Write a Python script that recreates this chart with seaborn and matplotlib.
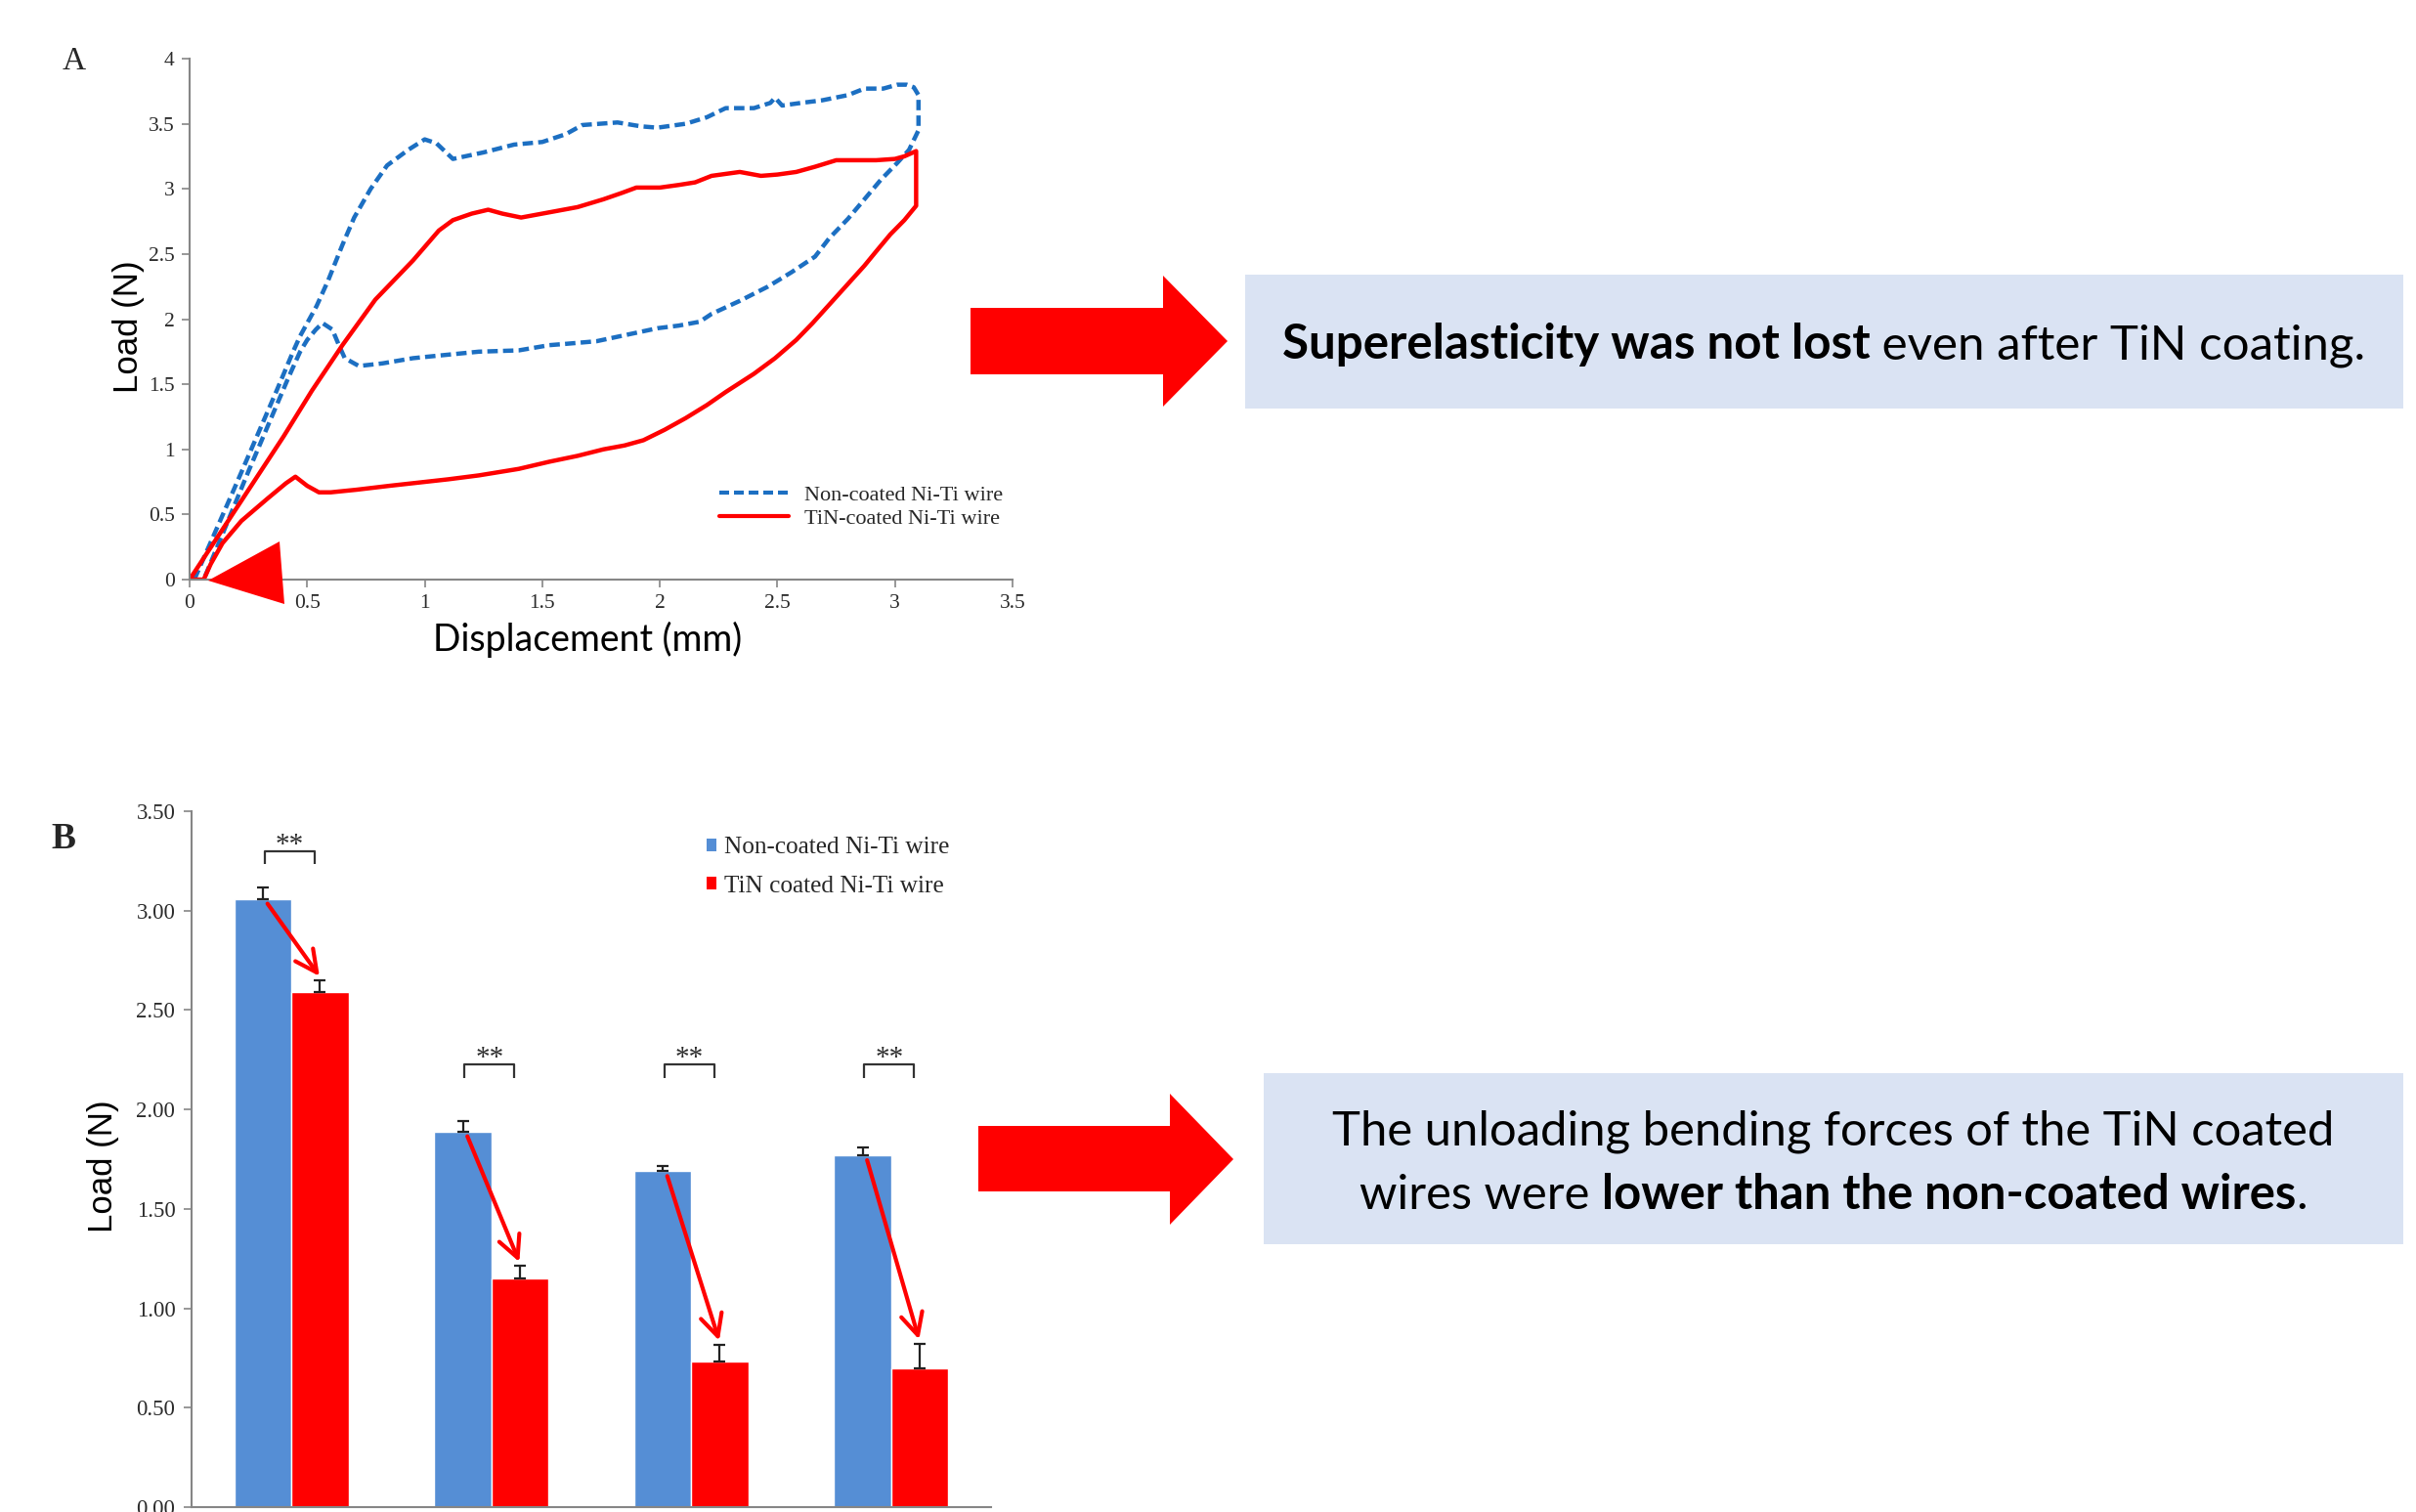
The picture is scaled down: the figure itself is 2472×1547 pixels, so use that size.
import numpy as np
import pandas as pd
import matplotlib
matplotlib.use("Agg")
import matplotlib.pyplot as plt
import seaborn as sns
from matplotlib.patches import Polygon, Rectangle, Patch
from matplotlib.lines import Line2D
from matplotlib.ticker import FormatStrFormatter, FuncFormatter

# ---------------- data ----------------
# Panel A: load-displacement loops (mm, N)
nc_load_x = [0.02, 0.20, 0.37, 0.44, 0.47, 0.54, 0.59, 0.65, 0.70, 0.77, 0.84, 0.93, 1.00,
             1.05, 1.12, 1.25, 1.38, 1.50, 1.60, 1.67, 1.82, 1.92, 1.99, 2.11, 2.20, 2.28,
             2.40, 2.47, 2.49, 2.52, 2.60, 2.69, 2.80, 2.87, 2.95, 3.01, 3.05, 3.08, 3.10]
nc_load_y = [0.00, 0.74, 1.45, 1.75, 1.87, 2.10, 2.30, 2.57, 2.78, 3.00, 3.18, 3.30, 3.38,
             3.35, 3.23, 3.28, 3.34, 3.36, 3.42, 3.49, 3.51, 3.48, 3.47, 3.50, 3.55, 3.62,
             3.62, 3.66, 3.70, 3.64, 3.66, 3.68, 3.72, 3.77, 3.77, 3.80, 3.80, 3.78, 3.72]
nc_unload_x = [3.10, 3.06, 3.01, 2.94, 2.87, 2.80, 2.72, 2.66, 2.56, 2.46, 2.34, 2.22, 2.17,
               2.08, 1.99, 1.86, 1.73, 1.60, 1.53, 1.40, 1.23, 1.06, 0.95, 0.82, 0.72, 0.66,
               0.635, 0.607, 0.565, 0.537, 0.50, 0.47, 0.42, 0.25, 0.06]
nc_unload_y = [3.45, 3.30, 3.20, 3.07, 2.92, 2.77, 2.62, 2.48, 2.36, 2.25, 2.14, 2.04, 1.98,
               1.95, 1.93, 1.88, 1.83, 1.81, 1.80, 1.76, 1.75, 1.72, 1.70, 1.66, 1.64, 1.70,
               1.80, 1.92, 1.97, 1.92, 1.84, 1.75, 1.55, 0.83, 0.00]

tin_load_x = [0.00, 0.20, 0.40, 0.52, 0.65, 0.79, 0.87, 0.95, 1.06, 1.12, 1.20, 1.27, 1.33,
              1.41, 1.53, 1.65, 1.76, 1.84, 1.90, 2.00, 2.08, 2.15, 2.22, 2.34, 2.43, 2.50,
              2.58, 2.66, 2.75, 2.85, 2.92, 3.00, 3.04, 3.09]
tin_load_y = [0.00, 0.55, 1.10, 1.45, 1.80, 2.15, 2.30, 2.45, 2.68, 2.76, 2.81, 2.84, 2.81,
              2.78, 2.82, 2.86, 2.92, 2.97, 3.01, 3.01, 3.03, 3.05, 3.10, 3.13, 3.10, 3.11,
              3.13, 3.17, 3.22, 3.22, 3.22, 3.23, 3.25, 3.29]
tin_unload_x = [3.09, 3.04, 2.98, 2.92, 2.87, 2.80, 2.72, 2.65, 2.58, 2.49, 2.40, 2.28, 2.20,
                2.11, 2.02, 1.93, 1.85, 1.76, 1.65, 1.53, 1.40, 1.23, 1.10, 1.00, 0.85, 0.71,
                0.60, 0.55, 0.50, 0.45, 0.41, 0.33, 0.22, 0.14, 0.09, 0.06, 0.00]
tin_unload_y = [2.87, 2.76, 2.65, 2.52, 2.41, 2.27, 2.11, 1.97, 1.84, 1.70, 1.58, 1.44, 1.34,
                1.24, 1.15, 1.07, 1.03, 1.00, 0.95, 0.905, 0.85, 0.80, 0.77, 0.75, 0.72, 0.69,
                0.67, 0.67, 0.72, 0.79, 0.74, 0.62, 0.45, 0.28, 0.12, 0.00, 0.00]

wire_labels_a = ["Non-coated Ni-Ti wire", "TiN-coated Ni-Ti wire"]

# Panel B: unloading bending force (N), mean and upper error
groups = [0, 1, 2, 3]
noncoated_load = [3.06, 1.89, 1.69, 1.77]
noncoated_err = [0.055, 0.05, 0.026, 0.039]
tin_load = [2.59, 1.15, 0.73, 0.70]
tin_err = [0.06, 0.063, 0.087, 0.123]
bracket_top = [3.30, 2.225, 2.225, 2.225]
sig_marks = ["**", "**", "**", "**"]
wire_labels_b = ["Non-coated Ni-Ti wire", "TiN coated Ni-Ti wire"]

y_ticks_a = [0, 0.5, 1, 1.5, 2, 2.5, 3, 3.5, 4]
x_ticks_a = [0, 0.5, 1, 1.5, 2, 2.5, 3, 3.5]
y_ticks_b = [0.0, 0.5, 1.0, 1.5, 2.0, 2.5, 3.0, 3.5]

callout_1 = [("Superelasticity was not lost", "bold"), (" even after TiN coating.", "normal")]
callout_2a = [("The unloading bending forces of the TiN coated", "normal")]
callout_2b = [("wires were ", "normal"), ("lower than the non-coated wires", "bold"), (".", "normal")]

# ---------------- style ----------------
BLUE_LINE = "#1C6FC2"
RED = "#FF0000"
BLUE_BAR = "#558ED5"
BOX = "#DAE3F3"
SPINE = "#868686"
TXT = "#2B2B2B"
SERIF = ["Liberation Serif", "DejaVu Serif"]
SANS = ["Liberation Sans", "DejaVu Sans"]
CALLOUT = ["Lato", "DejaVu Sans"]

W, H, DPI = 2472, 1547, 100
sns.set_theme(style="white")
plt.rcParams["font.family"] = SERIF

fig = plt.figure(figsize=(W / DPI, H / DPI), dpi=DPI)
fig.patch.set_facecolor("white")


def fx(px):
    return px / W


def fy(py):
    return 1 - py / H


# ---------------- panel A ----------------
axA = fig.add_axes([fx(194), fy(593), (1036 - 194) / W, (593 - 60) / H])
curve_df = pd.concat([
    pd.DataFrame({"x": nc_load_x + nc_unload_x, "y": nc_load_y + nc_unload_y,
                  "wire": wire_labels_a[0]}),
    pd.DataFrame({"x": tin_load_x + tin_unload_x, "y": tin_load_y + tin_unload_y,
                  "wire": wire_labels_a[1]}),
], ignore_index=True)
sns.lineplot(data=curve_df, x="x", y="y", hue="wire", style="wire",
             palette={wire_labels_a[0]: BLUE_LINE, wire_labels_a[1]: RED},
             dashes={wire_labels_a[0]: (2.4, 1.2), wire_labels_a[1]: ""},
             sort=False, estimator=None, lw=3.2, legend=False, ax=axA)

axA.set_xlim(0, 3.5)
axA.set_ylim(0, 4)
axA.set_xticks(x_ticks_a)
axA.set_yticks(y_ticks_a)
axA.xaxis.set_major_formatter(FuncFormatter(lambda v, p: f"{v:g}"))
axA.yaxis.set_major_formatter(FuncFormatter(lambda v, p: f"{v:g}"))
for s in ["top", "right"]:
    axA.spines[s].set_visible(False)
for s in ["left", "bottom"]:
    axA.spines[s].set_color(SPINE)
    axA.spines[s].set_linewidth(1.5)
axA.tick_params(direction="out", length=6, width=1.2, color=SPINE, labelsize=15.5,
                labelcolor=TXT, pad=5, left=True, bottom=True)
axA.set_ylabel("Load (N)", family=SANS, fontsize=25, color="black")
axA.yaxis.label.set_va("center")
axA.yaxis.set_label_coords((131 - 194) / 842, (593 - 334) / 533)
axA.set_xlabel("Displacement (mm)", family=CALLOUT, fontsize=27, color="black")
axA.xaxis.label.set_va("center")
axA.xaxis.set_label_coords((601 - 194) / 842, (593 - 654) / 533)

leg_a = [Line2D([], [], color=BLUE_LINE, lw=3, dashes=(2.4, 1.2)),
         Line2D([], [], color=RED, lw=3)]
axA.legend(leg_a, wire_labels_a, loc="center left", bbox_to_anchor=(0.644, 0.14),
           frameon=False, prop={"family": SERIF, "size": 16}, handlelength=3.2,
           handletextpad=0.7, labelspacing=0.15, borderpad=0, borderaxespad=0)

# red pointer at the origin
fig.patches.append(Polygon([(fx(213), fy(594)), (fx(286), fy(554)), (fx(291), fy(618))],
                           closed=True, transform=fig.transFigure, facecolor=RED,
                           edgecolor="none", zorder=5))

# ---------------- panel B ----------------
axB = fig.add_axes([fx(196), fy(1542), (1014 - 196) / W, (1542 - 830) / H])
bar_df = pd.DataFrame({
    "group": groups * 2,
    "load": noncoated_load + tin_load,
    "wire": [wire_labels_b[0]] * len(groups) + [wire_labels_b[1]] * len(groups),
})
sns.barplot(data=bar_df, x="group", y="load", hue="wire",
            palette={wire_labels_b[0]: BLUE_BAR, wire_labels_b[1]: RED},
            width=0.57, gap=0, saturation=1, errorbar=None, legend=False, ax=axB)

axB.set_xlim(-0.5, 3.5)
axB.set_ylim(0, 3.5)
axB.set_yticks(y_ticks_b)
axB.yaxis.set_major_formatter(FormatStrFormatter("%.2f"))
axB.set_xlabel("")
axB.set_ylabel("Load (N)", family=SANS, fontsize=25, color="black")
axB.yaxis.label.set_va("center")
axB.yaxis.set_label_coords((106 - 196) / 818, (1542 - 1193) / 712)
for s in ["top", "right"]:
    axB.spines[s].set_visible(False)
for s in ["left", "bottom"]:
    axB.spines[s].set_color(SPINE)
    axB.spines[s].set_linewidth(1.5)
axB.tick_params(axis="y", direction="out", length=6, width=1.2, color=SPINE,
                labelsize=16.5, labelcolor=TXT, pad=6, left=True)
axB.tick_params(axis="x", length=0, labelbottom=False)

# bar centres taken from the drawn bars
blue_x = [p.get_x() + p.get_width() / 2 for p in axB.containers[0]]
red_x = [p.get_x() + p.get_width() / 2 for p in axB.containers[1]]

axB.errorbar(blue_x, noncoated_load, yerr=[np.zeros(4), noncoated_err], fmt="none",
             ecolor="#222222", elinewidth=1.6, capsize=4, capthick=1.6, zorder=4)
axB.errorbar(red_x, tin_load, yerr=[np.zeros(4), tin_err], fmt="none",
             ecolor="#222222", elinewidth=1.6, capsize=4, capthick=1.6, zorder=4)

for i, top, mark in zip(groups, bracket_top, sig_marks):
    x0, x1 = i - 0.135, i + 0.115
    axB.plot([x0, x0, x1, x1], [top - 0.065, top, top, top - 0.065],
             color="#333333", lw=1.6, solid_capstyle="butt", zorder=4)
    axB.text((x0 + x1) / 2, top - 0.005, mark, ha="center", va="baseline",
             fontsize=21, family=SERIF, color=TXT)

for i, b, r, e in zip(groups, noncoated_load, tin_load, tin_err):
    axB.annotate("", xy=(i + 0.14, r + e + 0.02), xytext=(i - 0.12, b - 0.025),
                 arrowprops=dict(arrowstyle="->,head_length=0.8,head_width=0.4",
                                 color=RED, lw=3, mutation_scale=20,
                                 shrinkA=0, shrinkB=0), zorder=5)

leg_b = [Patch(facecolor=BLUE_BAR, edgecolor="none"), Patch(facecolor=RED, edgecolor="none")]
axB.legend(leg_b, wire_labels_b, loc="center left", bbox_to_anchor=(0.644, 0.92),
           frameon=False, prop={"family": SERIF, "size": 18.2}, handlelength=0.42,
           handleheight=0.42, handletextpad=0.3, labelspacing=0.7, borderpad=0,
           borderaxespad=0)

# panel letters
fig.text(fx(76), fy(63), "A", ha="center", va="center", fontsize=24, family=SERIF)
fig.text(fx(65), fy(859), "B", ha="center", va="center", fontsize=27,
         fontweight="bold", family=SERIF)

# ---------------- callouts ----------------
def block_arrow(x0, x1, tip, y_shaft0, y_shaft1, y_head0, y_head1):
    yc = (y_head0 + y_head1) / 2
    pts = [(x0, y_shaft0), (x1, y_shaft0), (x1, y_head0), (tip, yc),
           (x1, y_head1), (x1, y_shaft1), (x0, y_shaft1)]
    fig.patches.append(Polygon([(fx(a), fy(b)) for a, b in pts], closed=True,
                               transform=fig.transFigure, facecolor=RED,
                               edgecolor="none"))


def box(x0, y0, x1, y1):
    fig.patches.append(Rectangle((fx(x0), fy(y1)), (x1 - x0) / W, (y1 - y0) / H,
                                 transform=fig.transFigure, facecolor=BOX,
                                 edgecolor="none"))


renderer = fig.canvas.get_renderer()


def mixed_line(parts, cx, baseline, size):
    texts = [fig.text(0, 0, s, fontsize=size, fontweight=wt, family=CALLOUT,
                      ha="left", va="baseline", color="black") for s, wt in parts]
    widths = [t.get_window_extent(renderer).width for t in texts]
    x = cx - sum(widths) / 2
    for t, w in zip(texts, widths):
        t.set_position((fx(x), fy(baseline)))
        x += w


block_arrow(993, 1190, 1256, 315, 383, 282, 416)
box(1274, 281, 2459, 418)
mixed_line(callout_1, 1866, 367, 35.5)

block_arrow(1001, 1197, 1262, 1152, 1219, 1119, 1253)
box(1293, 1098, 2459, 1273)
mixed_line(callout_2a, 1876, 1171, 35.3)
mixed_line(callout_2b, 1876, 1237, 35.3)

fig.savefig("out.png", dpi=DPI, facecolor="white")
